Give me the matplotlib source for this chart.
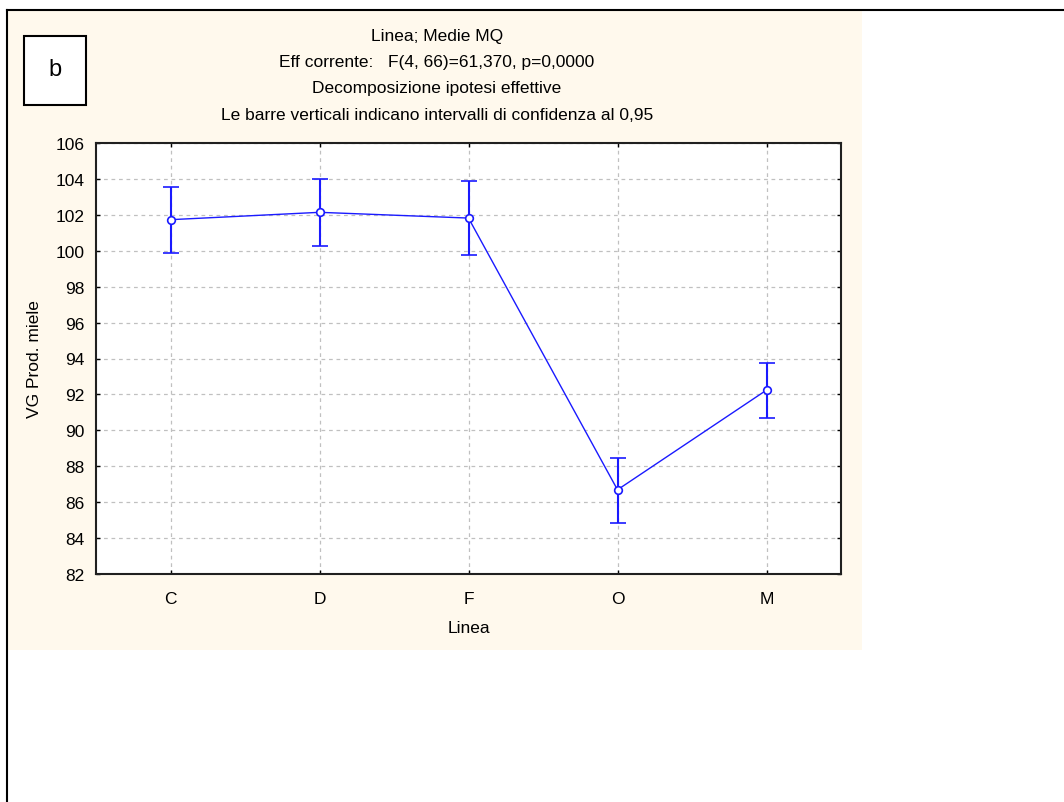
import matplotlib.pyplot as plt
from matplotlib.lines import Line2D
from matplotlib.patches import Rectangle

# dati (medie MQ e limiti IC 95%)
categorie = ['C', 'D', 'F', 'O', 'M']
medie = [101.73, 102.14, 101.82, 86.69, 92.24]
ic_sup = [103.57, 103.98, 103.87, 88.45, 93.73]
ic_inf = [99.87, 100.26, 99.76, 84.85, 90.70]
y_ticks = list(range(82, 107, 2))

titolo = ['Linea; Medie MQ',
          'Eff corrente:   F(4, 66)=61,370, p=0,0000',
          'Decomposizione ipotesi effettive',
          'Le barre verticali indicano intervalli di confidenza al 0,95']

plt.rcParams['font.family'] = ['Liberation Sans', 'DejaVu Sans']
FS = 12.5

W, H = 1064, 803
fig = plt.figure(figsize=(W / 100, H / 100), dpi=100, facecolor='white')

# sfondo crema e cornice esterna
fig.patches.append(Rectangle((7 / W, 1 - 651 / H), (862 - 7) / W, (651 - 11) / H,
                             transform=fig.transFigure, facecolor='#fff9ed',
                             edgecolor='none', zorder=0))
fig.lines.append(Line2D([7 / W, 1], [1 - 11 / H, 1 - 11 / H], transform=fig.transFigure,
                        color='black', linewidth=1.5))
fig.lines.append(Line2D([7 / W, 7 / W], [0, 1 - 11 / H], transform=fig.transFigure,
                        color='black', linewidth=1.5))

ax = fig.add_axes([96 / W, 1 - 575 / H, (841 - 96) / W, (575 - 144) / H])
ax.set_zorder(2)
ax.set_facecolor('white')

x = list(range(len(categorie)))
err_lo = [m - lo for m, lo in zip(medie, ic_inf)]
err_hi = [hi - m for m, hi in zip(medie, ic_sup)]

ax.errorbar(x, medie, yerr=[err_lo, err_hi], color='#1a1aff', linewidth=1.0,
            elinewidth=1.5, capsize=5.5, capthick=1.5, marker='o', markersize=5.5,
            markerfacecolor='white', markeredgecolor='#1a1aff', markeredgewidth=1.2,
            zorder=3)

ax.set_xlim(-0.5, len(categorie) - 0.5)
ax.set_ylim(82, 106)
ax.set_xticks(x)
ax.set_xticklabels(categorie)
ax.set_yticks(y_ticks)
ax.grid(True, color='#c0c0c0', linestyle=(0, (3, 3)), linewidth=0.9)
ax.set_axisbelow(True)
ax.tick_params(direction='in', length=3, width=1, top=True, right=True,
               labelsize=FS, colors='black', pad=8)
ax.tick_params(axis='x', pad=12)
for s in ax.spines.values():
    s.set_linewidth(1.5)
    s.set_color('#202020')

ax.set_ylabel('VG Prod. miele', fontsize=FS, labelpad=10)
ax.set_xlabel('Linea', fontsize=FS, labelpad=10)

# titolo su quattro righe
for i, riga in enumerate(titolo):
    fig.text(437 / W, 1 - (36 + i * 26.5) / H, riga, ha='center', va='center', fontsize=FS)

# riquadro "b"
fig.patches.append(Rectangle((24 / W, 1 - 106 / H), 62 / W, 69 / H, transform=fig.transFigure,
                             facecolor='white', edgecolor='black', linewidth=1.5, zorder=2))
fig.text(55 / W, 1 - 70 / H, 'b', ha='center', va='center', fontsize=17, zorder=3)

plt.savefig('out.png', dpi=100, facecolor=fig.get_facecolor())
